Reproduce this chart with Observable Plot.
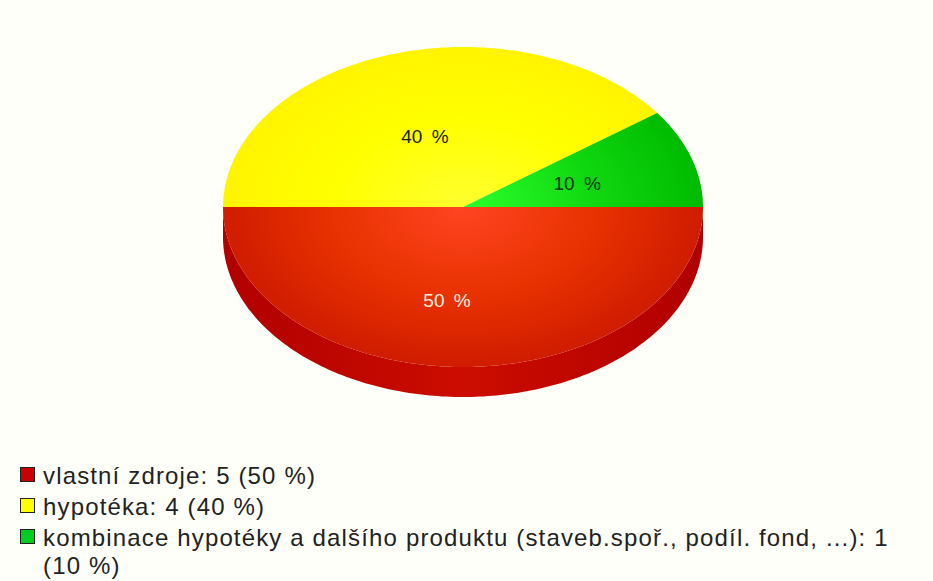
<!DOCTYPE html>
<html lang="cs">
<head>
<meta charset="utf-8">
<script src="https://cdn.jsdelivr.net/npm/d3@7"></script>
<script src="https://cdn.jsdelivr.net/npm/@observablehq/plot@0.6"></script>
<style>
  html, body { margin: 0; padding: 0; background: #fefff9; overflow: hidden; }
  #chart svg { display: block; background: #fefff9; }
  #chart svg text { word-spacing: 4px; }
  #legend {
    margin: 0; padding: 0 0 0 20px; width: 890px; list-style: none;
    font: 24px/28px "Liberation Sans", Arial, sans-serif; color: #222;
    letter-spacing: 1.15px;
  }
  #legend li { display: flex; align-items: flex-start; margin-bottom: 3px; }
  #legend .swatch {
    flex: none; width: 13px; height: 13px; margin: 5px 8px 0 0;
    border: 1.5px solid #222;
  }
</style>
</head>
<body>
<div id="chart"></div>
<ul id="legend"></ul>
<script>
// Survey answers: how the purchase was financed.
const categories = ["vlastní zdroje", "hypotéka", "kombinace hypotéky a dalšího produktu (staveb.spoř., podíl. fond, ...)"];
const counts = [5, 4, 1];
const percents = [50, 40, 10];
const swatchColors = ["#c80000", "#ffff00", "#00cc22"];

const rimDepth = 0.1875; // thickness of the disc, in units of the vertical radius

// Slices run clockwise from three o'clock.
const arcs = d3.pie().sort(null).startAngle(Math.PI / 2).endAngle(Math.PI * 2.5)(counts);

const angleSteps = (a0, a1) => d3.range(a0, a1, Math.PI / 180).concat(a1);
const slicePoints = arcs.flatMap((arc, i) => [
  {slice: i, x: 0, y: 0},
  ...angleSteps(arc.startAngle, arc.endAngle).map(a => ({slice: i, x: Math.sin(a), y: -Math.cos(a)}))
]);

// The visible side wall belongs to the lower half only, i.e. the first slice.
const rimAngles = angleSteps(arcs[0].startAngle, arcs[0].endAngle);
const rimPoints = [
  ...rimAngles.map(a => ({x: Math.sin(a), y: -Math.cos(a)})),
  ...rimAngles.slice().reverse().map(a => ({x: Math.sin(a), y: -Math.cos(a) + rimDepth}))
];

const labelPoints = arcs.map((arc, i) => {
  const mid = (arc.startAngle + arc.endAngle) / 2;
  return {x: 0.5 * Math.sin(mid), y: -0.5 * Math.cos(mid), text: `${percents[i]} %`};
});

const gradientStops = [
  {id: "face-red", inner: "#ff4422", middle: "#e83200", outer: "#d01c00"},
  {id: "face-yellow", inner: "#ffff30", middle: "#ffff00", outer: "#fff400"},
  {id: "face-green", inner: "#2cff2c", middle: "#10d810", outer: "#00bb00"}
];

// Radial gradients centred on the disc and stretched to its ellipse.
function gradients(index, {x, y}) {
  const rx = (x(1) - x(-1)) / 2, ry = (y(1) - y(-1)) / 2;
  const defs = d3.create("svg:defs");
  gradientStops.forEach(({id, inner, middle, outer}) => {
    const g = defs.append("radialGradient")
      .attr("id", id)
      .attr("gradientUnits", "userSpaceOnUse")
      .attr("cx", 0).attr("cy", 0).attr("r", 1)
      .attr("gradientTransform", `translate(${x(0)},${y(0)}) scale(${rx},${ry})`);
    g.append("stop").attr("offset", "0%").attr("stop-color", inner);
    g.append("stop").attr("offset", "55%").attr("stop-color", middle);
    g.append("stop").attr("offset", "100%").attr("stop-color", outer);
  });
  const rim = defs.append("linearGradient").attr("id", "rim-red");
  rim.append("stop").attr("offset", "0%").attr("stop-color", "#b00000");
  rim.append("stop").attr("offset", "50%").attr("stop-color", "#cc0c00");
  rim.append("stop").attr("offset", "100%").attr("stop-color", "#b00000");
  return defs.node();
}

const sliceLabel = (i, options) => Plot.text([labelPoints[i]], {
  x: "x", y: "y", text: "text",
  fontFamily: "Liberation Sans, Arial, sans-serif",
  fontSize: 19,
  ...options
});

const plot = Plot.plot({
  width: 933,
  height: 462,
  x: {domain: [-1, 1], range: [222.5, 702.5], axis: null},
  y: {domain: [-1, 1], range: [46.5, 366.5], axis: null},
  marks: [
    gradients,
    Plot.line(rimPoints, {x: "x", y: "y", fill: "url(#rim-red)", stroke: "none", curve: "linear-closed"}),
    ...gradientStops.map(({id}, i) => Plot.line(slicePoints.filter(d => d.slice === i), {
      x: "x", y: "y", fill: `url(#${id})`, stroke: "none", curve: "linear-closed"
    })),
    sliceLabel(0, {fill: "#fff0e0", dx: -16, dy: 14}),
    sliceLabel(1, {fill: "#222200", dx: -1, dy: 6}),
    sliceLabel(2, {fill: "#003300", dy: 2})
  ]
});
document.getElementById("chart").append(plot);

d3.select("#legend").selectAll("li")
  .data(categories)
  .join("li")
  .html((name, i) => `<span class="swatch" style="background:${swatchColors[i]}"></span><span>${name}: ${counts[i]} (${percents[i]} %)</span>`);
</script>
</body>
</html>
